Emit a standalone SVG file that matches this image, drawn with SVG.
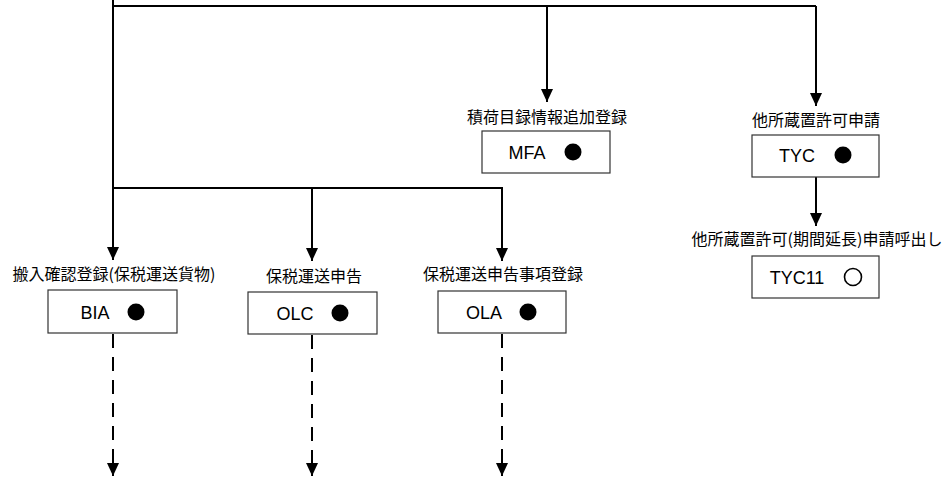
<svg xmlns="http://www.w3.org/2000/svg" width="948" height="477" viewBox="0 0 948 477">
<defs>
<marker id="ah" viewBox="0 0 12 13" markerWidth="12" markerHeight="13" refX="13" refY="6" orient="auto" markerUnits="userSpaceOnUse">
<path d="M0,0 L13,6 L0,12 Z" fill="#000"/>
</marker>
<style>
.ln{stroke:#000;stroke-width:2;fill:none}
.ar{stroke:#000;stroke-width:2;fill:none;marker-end:url(#ah)}
.da{stroke:#000;stroke-width:2;fill:none;stroke-dasharray:14 9;marker-end:url(#ah)}
.bx{fill:#fff;stroke:#333;stroke-width:1.2}
.lb{font-family:"Noto Sans CJK JP","Noto Sans CJK SC",sans-serif;font-size:16px;fill:#000;text-anchor:middle}
.cd{font-family:"Liberation Sans",Arial,sans-serif;font-size:18px;fill:#000;text-anchor:middle}
.dot{fill:#000}
.ring{fill:none;stroke:#000;stroke-width:1.6}
</style>
</defs>
<g id="connectors">
<path class="ln" d="M113,0 V188"/>
<path class="ln" d="M112,6 H816"/>
<path class="ar" d="M547,6 V102"/>
<path class="ar" d="M816,6 V106"/>
<path class="ar" d="M816,177 V226"/>
<path class="ln" d="M112,188 H503"/>
<path class="ar" d="M113,188 V260"/>
<path class="ar" d="M312,188 V261"/>
<path class="ar" d="M502,188 V261"/>
<path class="da" d="M113,334 V476"/>
<path class="da" d="M312,335 V476"/>
<path class="da" d="M502,334 V476"/>
</g>
<g id="MFA">
<text class="lb" x="547" y="123">積荷目録情報追加登録</text>
<rect class="bx" x="482" y="131" width="128" height="42"/>
<text class="cd" x="527" y="159">MFA</text>
<circle class="dot" cx="573" cy="152" r="8.5"/>
</g>
<g id="TYC">
<text class="lb" x="816" y="126">他所蔵置許可申請</text>
<rect class="bx" x="752" y="135" width="127" height="42"/>
<text class="cd" x="797" y="162">TYC</text>
<circle class="dot" cx="843" cy="155" r="8.5"/>
</g>
<g id="TYC11">
<text class="lb" x="817" y="245">他所蔵置許可(期間延長)申請呼出し</text>
<rect class="bx" x="752" y="256" width="127" height="42"/>
<text class="cd" x="797" y="284">TYC11</text>
<circle class="ring" cx="853" cy="277" r="8.5"/>
</g>
<g id="BIA">
<text class="lb" x="114" y="280">搬入確認登録(保税運送貨物)</text>
<rect class="bx" x="48" y="290" width="129" height="43"/>
<text class="cd" x="95" y="319">BIA</text>
<circle class="dot" cx="136" cy="312" r="8.5"/>
</g>
<g id="OLC">
<text class="lb" x="314" y="282">保税運送申告</text>
<rect class="bx" x="248" y="292" width="129" height="42"/>
<text class="cd" x="295" y="320">OLC</text>
<circle class="dot" cx="340" cy="313" r="8.5"/>
</g>
<g id="OLA">
<text class="lb" x="503" y="280">保税運送申告事項登録</text>
<rect class="bx" x="438" y="291" width="128" height="42"/>
<text class="cd" x="484" y="319">OLA</text>
<circle class="dot" cx="528" cy="312" r="8.5"/>
</g>
</svg>
